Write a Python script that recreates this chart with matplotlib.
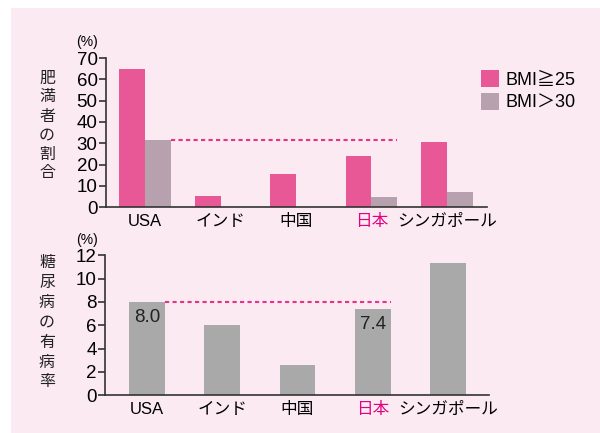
import numpy as np
import matplotlib
matplotlib.use('Agg')
import matplotlib.pyplot as plt
from matplotlib.patches import Rectangle

plt.rcParams['font.family'] = ['Liberation Sans', 'Noto Sans CJK JP']

# data
countries = ['USA', 'インド', '中国', '日本', 'シンガポール']
bmi25 = [65.0, 5.3, 15.6, 24.0, 30.6]
bmi30 = [31.6, 0.0, 0.0, 4.8, 7.2]
diabetes = [8.0, 6.0, 2.6, 7.4, 11.3]
top_ticks = [0, 10, 20, 30, 40, 50, 60, 70]
bot_ticks = [0, 2, 4, 6, 8, 10, 12]
legend_labels = ['BMI≧25', 'BMI＞30']
top_ylabel = '肥満者の割合'
bot_ylabel = '糖尿病の有病率'

bg = '#FBEAF2'
pink = '#E85796'
mauve = '#B7A1AF'
grey = '#A9A9AA'
dot_col = '#E6338A'
jp_col = '#E4007F'
axis_col = '#333333'

fig = plt.figure(figsize=(6, 4.33), dpi=100)
fig.patches.append(Rectangle((11/600, 0), 1, 1 - 8/433, transform=fig.transFigure,
                             facecolor=bg, edgecolor='none', zorder=-10))

x = np.arange(len(countries))

def style_axes(ax, ticks):
    ax.set_facecolor('none')
    for s in ['top', 'right']:
        ax.spines[s].set_visible(False)
    for s in ['left', 'bottom']:
        ax.spines[s].set_color(axis_col)
        ax.spines[s].set_linewidth(1.2)
    ax.set_yticks(ticks)
    ax.tick_params(axis='y', length=5, width=1.2, color=axis_col, labelsize=13.5, pad=1)
    ax.tick_params(axis='x', length=0, labelsize=12, pad=5)
    ax.set_xticks(x)
    ax.set_xticklabels(countries)
    for lab in ax.get_xticklabels():
        if lab.get_text() == '日本':
            lab.set_color(jp_col)

# top chart
ax1 = fig.add_axes([106/600, 1 - 207.3/433, 381/600, 149.3/433])
w1 = 0.344
ax1.bar(x - w1/2, bmi25, w1, color=pink, label=legend_labels[0])
ax1.bar(x + w1/2, bmi30, w1, color=mauve, label=legend_labels[1])
ax1.set_xlim(-0.517, 4.53)
ax1.set_ylim(0, 70)
style_axes(ax1, top_ticks)
ax1.plot([x[0] + w1, x[3] + w1], [bmi30[0], bmi30[0]], color=dot_col,
         lw=1.5, dashes=(2, 1.6), clip_on=False)
leg = ax1.legend(loc='upper left', bbox_to_anchor=(481/600, 1 - 70/433),
                 bbox_transform=fig.transFigure, frameon=False, fontsize=13,
                 handlelength=1.0, handleheight=1.05, handletextpad=0.35,
                 labelspacing=0.25, borderpad=0, borderaxespad=0)
fig.text(87/600, 1 - 42/433, '(%)', fontsize=10, ha='center', va='center')

# bottom chart
ax2 = fig.add_axes([105/600, 1 - 395.3/433, 384/600, 140/433])
w2 = 0.478
ax2.bar(x, diabetes, w2, color=grey)
ax2.set_xlim(-0.558, 4.545)
ax2.set_ylim(0, 12)
style_axes(ax2, bot_ticks)
ax2.plot([x[0] + w2/2, x[3] + w2/2], [diabetes[0], diabetes[0]], color=dot_col,
         lw=1.5, dashes=(2, 1.6), clip_on=False)
for i in [0, 3]:
    ax2.annotate(f'{diabetes[i]:.1f}', (x[i], diabetes[i]), xytext=(0, -5),
                 textcoords='offset points', ha='center', va='top', fontsize=13.5,
                 color='#222222')
fig.text(87/600, 1 - 240/433, '(%)', fontsize=10, ha='center', va='center')

# vertical y labels, one character per line
for label, y0, step in [(top_ylabel, 78, 19), (bot_ylabel, 263, 19.8)]:
    for k, ch in enumerate(label):
        fig.text(47/600, 1 - (y0 + k*step)/433, ch, fontsize=11.5,
                 ha='center', va='center', color='#222222')

fig.savefig('out.png', dpi=100)
